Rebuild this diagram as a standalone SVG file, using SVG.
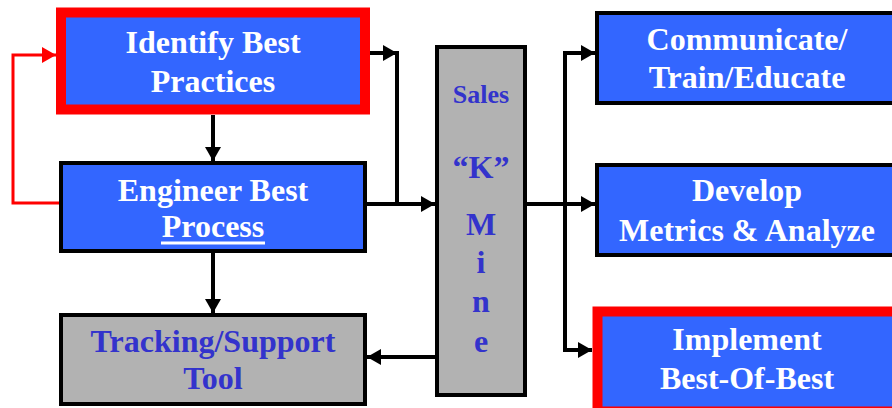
<svg xmlns="http://www.w3.org/2000/svg" width="892" height="408" viewBox="0 0 892 408">
  <style>
    .blue { fill: #3366ff; }
    .gray { fill: #b2b2b2; }
    .edge-black { stroke: #000; stroke-width: 4; }
    .edge-red { stroke: #ff0000; stroke-width: 10; }
    .t { font-family: "Liberation Serif", "Times New Roman", serif; font-weight: bold; font-size: 32px; text-anchor: middle; }
    .white { fill: #ffffff; }
    .navy { fill: #3333cc; }
    .wire { fill: none; stroke: #000; stroke-width: 4; }
    .wire-red { fill: none; stroke: #ff0000; stroke-width: 3; }
  </style>
  <defs>
    <marker id="arrow" viewBox="0 0 14 16" refX="14" refY="8" markerWidth="14" markerHeight="16" markerUnits="userSpaceOnUse" orient="auto">
      <path d="M0,0 L14,8 L0,16 Z" fill="#000"/>
    </marker>
    <marker id="arrow-red" viewBox="0 0 14 16" refX="14" refY="8" markerWidth="14" markerHeight="16" markerUnits="userSpaceOnUse" orient="auto">
      <path d="M0,0 L14,8 L0,16 Z" fill="#ff0000"/>
    </marker>
  </defs>
  <rect width="892" height="408" fill="#ffffff"/>

  <g id="connectors">
    <path class="wire" d="M213 115 V161" marker-end="url(#arrow)"/>
    <path class="wire" d="M213 253 V313" marker-end="url(#arrow)"/>
    <path class="wire-red" d="M59 203 H13 V55 H56" marker-end="url(#arrow-red)"/>
    <path class="wire" d="M370 53 H397" marker-end="url(#arrow)"/>
    <path class="wire" d="M397 51 V204"/>
    <path class="wire" d="M367 204 H435" marker-end="url(#arrow)"/>
    <path class="wire" d="M437 357 H367" marker-end="url(#arrow)"/>
    <path class="wire" d="M525 204 H595" marker-end="url(#arrow)"/>
    <path class="wire" d="M565 53 V352"/>
    <path class="wire" d="M563 53 H595" marker-end="url(#arrow)"/>
    <path class="wire" d="M563 350 H592" marker-end="url(#arrow)"/>
  </g>

  <g id="identify">
    <rect class="blue edge-red" x="61" y="12.5" width="304" height="97"/>
    <text class="t white" x="213" y="53">Identify Best</text>
    <text class="t white" x="213" y="92">Practices</text>
  </g>

  <g id="engineer">
    <rect class="blue edge-black" x="61" y="163" width="304" height="88"/>
    <text class="t white" x="213" y="201">Engineer Best</text>
    <text class="t white" x="213" y="237">Process</text>
    <rect x="161" y="241.5" width="104" height="3" fill="#ffffff"/>
  </g>

  <g id="tracking">
    <rect class="gray edge-black" x="61" y="315" width="304" height="89"/>
    <text class="t navy" x="213" y="352">Tracking/Support</text>
    <text class="t navy" x="213" y="389">Tool</text>
  </g>

  <g id="sales-mine">
    <rect class="gray edge-black" x="437" y="47" width="88" height="348"/>
    <text class="t navy" x="481" y="103" style="font-size:26px">Sales</text>
    <text class="t navy" x="481" y="178">“K”</text>
    <text class="t navy" x="481" y="235">M</text>
    <text class="t navy" x="481" y="273">i</text>
    <text class="t navy" x="481" y="312">n</text>
    <text class="t navy" x="481" y="352">e</text>
  </g>

  <g id="communicate">
    <rect class="blue edge-black" x="597" y="13" width="300" height="90"/>
    <text class="t white" x="747" y="50">Communicate/</text>
    <text class="t white" x="747" y="88">Train/Educate</text>
  </g>

  <g id="develop">
    <rect class="blue edge-black" x="597" y="165" width="300" height="90"/>
    <text class="t white" x="747" y="201">Develop</text>
    <text class="t white" x="747" y="241">Metrics &amp; Analyze</text>
  </g>

  <g id="implement">
    <rect class="blue edge-red" x="597.5" y="311.5" width="300" height="100"/>
    <text class="t white" x="747" y="350">Implement</text>
    <text class="t white" x="747" y="389">Best-Of-Best</text>
  </g>
</svg>
